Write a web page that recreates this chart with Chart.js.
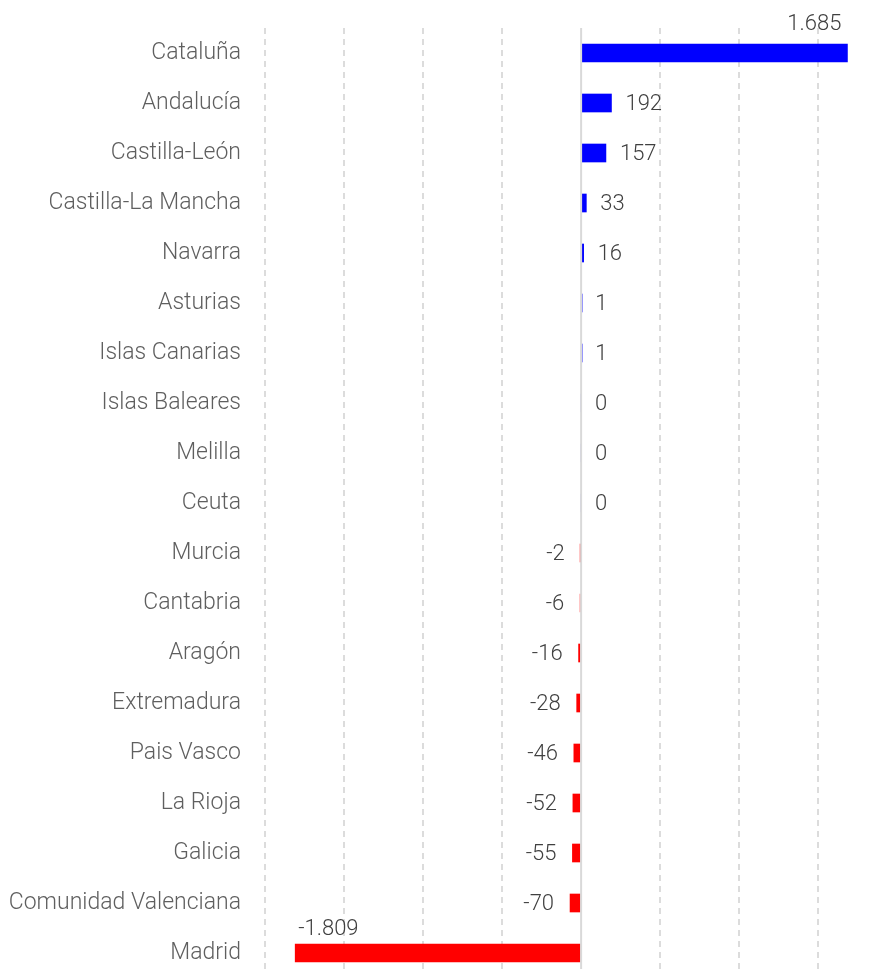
<!DOCTYPE html>
<html>
<head>
<meta charset="utf-8">
<script src="https://cdn.jsdelivr.net/npm/chart.js@4.4.1/dist/chart.umd.min.js"></script>
<style>
  html, body { margin: 0; padding: 0; background: #fff; overflow: hidden; }
  #wrap { width: 883px; height: 978px; position: relative; }
</style>
</head>
<body>
<div id="wrap"><canvas id="chart"></canvas></div>
<script>
const regions = ['Cataluña', 'Andalucía', 'Castilla-León', 'Castilla-La Mancha', 'Navarra',
  'Asturias', 'Islas Canarias', 'Islas Baleares', 'Melilla', 'Ceuta', 'Murcia', 'Cantabria',
  'Aragón', 'Extremadura', 'Pais Vasco', 'La Rioja', 'Galicia', 'Comunidad Valenciana', 'Madrid'];
const saldo = [1685, 192, 157, 33, 16, 1, 1, 0, 0, 0, -2, -6, -16, -28, -46, -52, -55, -70, -1809];
const gridSteps = [-2000, -1500, -1000, -500, 0, 500, 1000, 1500];

const FONT = 'Roboto';

// miles con punto: 1685 -> 1.685
function fmt(v) {
  const s = Math.abs(v).toString().replace(/\B(?=(\d{3})+(?!\d))/g, '.');
  return (v < 0 ? '-' : '') + s;
}

// linea del cero, continua, por encima de las barras
const zeroLine = {
  id: 'zeroLine',
  afterDatasetsDraw(chart) {
    const ctx = chart.ctx;
    const x = chart.scales.x.getPixelForValue(0);
    ctx.save();
    ctx.strokeStyle = '#d9d9d9';
    ctx.lineWidth = 2;
    ctx.beginPath();
    ctx.moveTo(x, chart.chartArea.top);
    ctx.lineTo(x, chart.chartArea.bottom);
    ctx.stroke();
    ctx.restore();
  }
};

const valueLabels = {
  id: 'valueLabels',
  afterDatasetsDraw(chart) {
    const ctx = chart.ctx;
    const meta = chart.getDatasetMeta(0);
    ctx.save();
    ctx.font = '300 22px ' + FONT;
    ctx.fillStyle = '#404040';
    ctx.textBaseline = 'middle';
    meta.data.forEach((bar, i) => {
      const v = saldo[i];
      const txt = fmt(v);
      const top = bar.y - bar.height / 2;
      if (Math.abs(v) > 1000) {
        // barras largas: etiqueta encima, en el extremo
        if (v > 0) {
          ctx.textAlign = 'right';
          ctx.fillText(txt, bar.x - 6, top - 20);
        } else {
          ctx.textAlign = 'left';
          ctx.fillText(txt, bar.x + 3, top - 15);
        }
      } else if (v >= 0) {
        ctx.textAlign = 'left';
        ctx.fillText(txt, bar.x + 14, bar.y + 1);
      } else {
        ctx.textAlign = 'right';
        ctx.fillText(txt, bar.x - 16, bar.y + 1);
      }
    });
    ctx.restore();
  }
};

const ctx = document.getElementById('chart').getContext('2d');

new Chart(ctx, {
  type: 'bar',
  data: {
    labels: regions,
    datasets: [{
      data: saldo,
      backgroundColor: saldo.map(v => v >= 0 ? '#0000ff' : '#ff0000'),
      borderWidth: 0,
      barThickness: 18
    }]
  },
  options: {
    indexAxis: 'y',
    responsive: true,
    maintainAspectRatio: false,
    animation: false,
    layout: { padding: { top: 28, right: 0, bottom: 0, left: 0 } },
    plugins: {
      legend: { display: false },
      tooltip: { enabled: false }
    },
    scales: {
      x: {
        min: -2000,
        max: 1910,
        afterBuildTicks: function(scale) {
          scale.ticks = gridSteps.map(v => ({ value: v }));
        },
        afterFit: function(scale) {
          scale.height = 0;
          scale.paddingLeft = 0;
          scale.paddingRight = 0;
        },
        ticks: { display: false },
        border: { display: false, dash: [6, 5] },
        grid: {
          drawTicks: false,
          lineWidth: 2,
          color: c => c.tick && c.tick.value === 0 ? 'rgba(0,0,0,0)' : '#dcdcdc'
        }
      },
      y: {
        afterFit: function(scale) {
          scale.width = 265;
          scale.paddingTop = 0;
          scale.paddingBottom = 0;
        },
        border: { display: false },
        grid: { display: false, drawTicks: false },
        ticks: {
          padding: 24,
          color: '#5f5f5f',
          font: { family: FONT, size: 23, weight: '300' }
        }
      }
    }
  },
  plugins: [zeroLine, valueLabels]
});
</script>
</body>
</html>
